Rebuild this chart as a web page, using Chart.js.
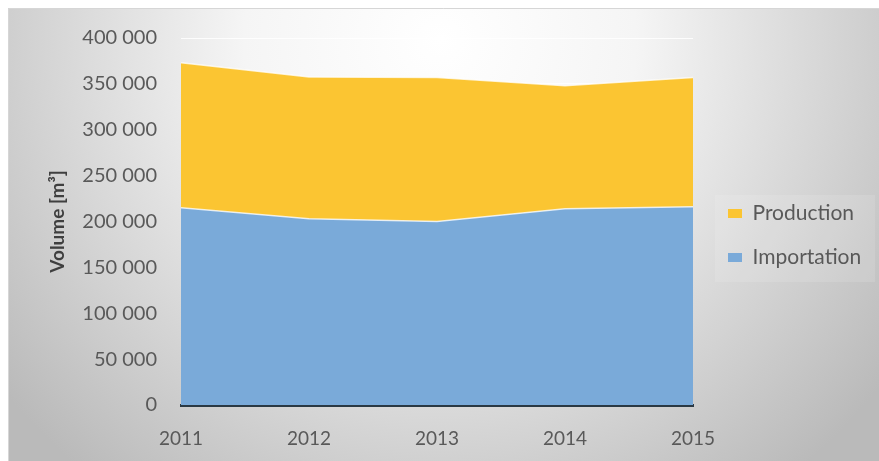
<!DOCTYPE html>
<html>
<head>
<meta charset="utf-8">
<script src="https://cdn.jsdelivr.net/npm/chart.js@4.4.1/dist/chart.umd.min.js"></script>
<style>
  html, body { margin: 0; padding: 0; background: #fff; }
  #wrap { width: 879px; height: 461px; position: relative; }
</style>
</head>
<body>
<div id="wrap"><canvas id="myChart"></canvas></div>
<script>
const years = ['2011', '2012', '2013', '2014', '2015'];
const importation = [215000, 203000, 200000, 214000, 216000];
const production = [158000, 154500, 157000, 134000, 141000];
const yTicks = [0, 50000, 100000, 150000, 200000, 250000, 300000, 350000, 400000];

const FONT = 'Lato, "Open Sans", sans-serif';
const TEXT_COLOR = '#595959';

function formatThousands(v) {
    return String(v).replace(/\B(?=(\d{3})+(?!\d))/g, ' ');
}

// grey gradient frame behind everything, like the spreadsheet chart
const backgroundPlugin = {
    id: 'frameBackground',
    beforeDraw(chart) {
        const ctx = chart.ctx;
        ctx.save();
        ctx.fillStyle = '#ffffff';
        ctx.fillRect(0, 0, chart.width, chart.height);
        const g = ctx.createRadialGradient(440, 40, 0, 440, 40, 560);
        g.addColorStop(0, '#ffffff');
        g.addColorStop(0.35, '#f5f5f5');
        g.addColorStop(1, '#bababa');
        ctx.fillStyle = g;
        ctx.fillRect(8, 8, chart.width - 8, chart.height - 8);
        ctx.strokeStyle = '#d6d6d6';
        ctx.lineWidth = 1;
        ctx.beginPath();
        ctx.moveTo(8.5, chart.height);
        ctx.lineTo(8.5, 8.5);
        ctx.lineTo(chart.width, 8.5);
        ctx.stroke();
        // faint legend panel
        ctx.fillStyle = 'rgba(255,255,255,0.12)';
        ctx.fillRect(715, 195, 160, 87);
        ctx.restore();
    }
};

// keep the legend at a fixed width and nudge it into place
const legendPlacer = {
    id: 'legendPlacer',
    beforeUpdate(chart) {
        const legend = chart.legend;
        if (legend && !legend._fixedFit) {
            const origFit = legend.fit.bind(legend);
            legend.fit = function() {
                origFit();
                this.width = 879 - 693;
            };
            legend._fixedFit = true;
        }
    },
    afterLayout(chart) {
        const legend = chart.legend;
        if (legend) {
            legend.left += 12;
            legend.top -= 14;
            legend.bottom -= 14;
        }
    }
};

const ctx = document.getElementById('myChart').getContext('2d');
const myChart = new Chart(ctx, {
    type: 'line',
    data: {
        labels: years,
        datasets: [{
            label: 'Importation',
            data: importation,
            backgroundColor: '#7aaad9',
            borderColor: 'rgba(255,255,255,0.75)',
            borderWidth: 1.5,
            fill: 'origin',
            tension: 0,
            pointRadius: 0
        }, {
            label: 'Production',
            data: production,
            backgroundColor: '#fbc532',
            borderColor: 'rgba(255,255,255,0.75)',
            borderWidth: 1.5,
            fill: '-1',
            tension: 0,
            pointRadius: 0
        }]
    },
    options: {
        responsive: true,
        maintainAspectRatio: false,
        animation: false,
        layout: { padding: { top: 38, left: 0, right: 0, bottom: 0 } },
        plugins: {
            tooltip: { enabled: false },
            legend: {
                position: 'right',
                reverse: true,
                labels: {
                    color: TEXT_COLOR,
                    font: { family: FONT, size: 21 },
                    boxWidth: 14,
                    boxHeight: 9,
                    padding: 23,
                    generateLabels(chart) {
                        const items = Chart.defaults.plugins.legend.labels.generateLabels(chart);
                        items.forEach(it => { it.lineWidth = 0; it.strokeStyle = 'rgba(0,0,0,0)'; });
                        return items;
                    }
                }
            }
        },
        scales: {
            x: {
                offset: false,
                grid: { display: false },
                border: { display: true, color: '#2a3944', width: 3 },
                ticks: {
                    color: TEXT_COLOR,
                    font: { family: FONT, size: 19 },
                    padding: 14,
                    maxRotation: 0
                },
                afterFit(scale) { scale.height = 461 - 405; }
            },
            y: {
                stacked: true,
                min: 0,
                max: 400000,
                afterBuildTicks(scale) { scale.ticks = yTicks.map(v => ({ value: v })); },
                grid: { color: 'rgba(255,255,255,0.85)', drawTicks: false },
                border: { display: false },
                ticks: {
                    color: TEXT_COLOR,
                    font: { family: FONT, size: 20 },
                    padding: 24,
                    callback: v => formatThousands(v)
                },
                title: {
                    display: true,
                    text: 'Volume [m³]',
                    color: '#3f3f3f',
                    font: { family: FONT, size: 19, weight: 'bold' },
                    padding: { top: 46, bottom: 0 }
                },
                afterFit(scale) { scale.width = 181; }
            }
        }
    },
    plugins: [backgroundPlugin, legendPlacer]
});
</script>
</body>
</html>
